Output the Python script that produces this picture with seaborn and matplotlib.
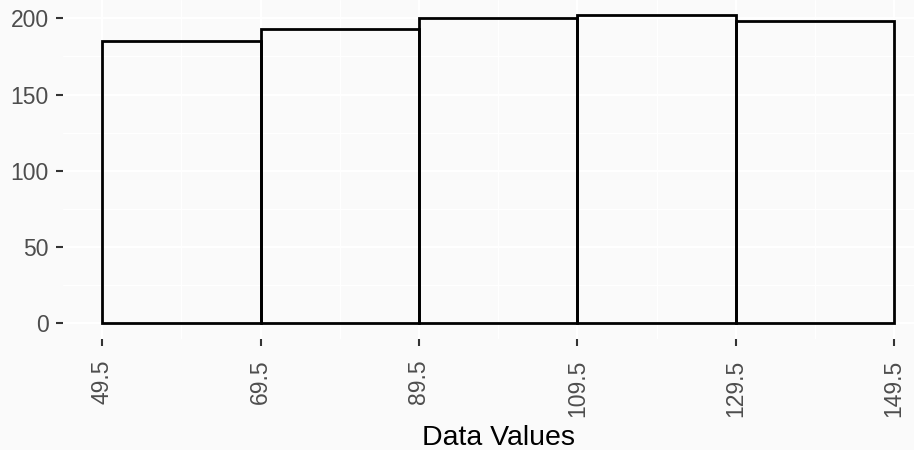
import seaborn as sns
import matplotlib.pyplot as plt
import numpy as np

# Histogram bins
bin_edges = [49.5, 69.5, 89.5, 109.5, 129.5, 149.5]
bin_counts = [185, 193, 200, 202, 198]
bin_centers = [(a + b) / 2 for a, b in zip(bin_edges[:-1], bin_edges[1:])]

bg = "#FAFAFA"
sns.set_theme(style="white")
plt.rcParams['font.family'] = ['Liberation Sans', 'DejaVu Sans']

fig = plt.figure(figsize=(9.14, 4.5), dpi=100, facecolor=bg)
ax = fig.add_axes([0.0686, 0.2473, 0.9529, 0.7531])
ax.set_facecolor(bg)

sns.histplot(x=bin_centers, weights=bin_counts, bins=bin_edges,
             fill=False, color="black", edgecolor="black", linewidth=2.0,
             ax=ax, zorder=3)

ax.set_xlim(44.5, 154.5)
ax.set_ylim(-10.1, 212.1)
ax.set_xticks(bin_edges)
ax.set_xticklabels([f"{e:g}" for e in bin_edges], rotation=90)
ax.set_xticks(bin_centers, minor=True)
ax.set_yticks([0, 50, 100, 150, 200])
ax.set_yticks([25, 75, 125, 175], minor=True)

ax.grid(which="major", color="white", linewidth=1.6, zorder=0)
ax.grid(which="minor", color="white", linewidth=0.8, zorder=0)
ax.set_axisbelow(True)
for s in ax.spines.values():
    s.set_visible(False)

ax.tick_params(which="major", length=5, width=1.5, color="#333333",
               labelsize=16.5, labelcolor="#4D4D4D", bottom=True, left=True)
ax.tick_params(axis="x", which="major", pad=10)
ax.tick_params(axis="y", which="major", pad=5)
ax.tick_params(which="minor", length=0)

ax.set_xlabel("Data Values", fontsize=20.5, color="black", labelpad=6)
ax.set_ylabel("")

fig.savefig("out.png", dpi=100, facecolor=bg)
